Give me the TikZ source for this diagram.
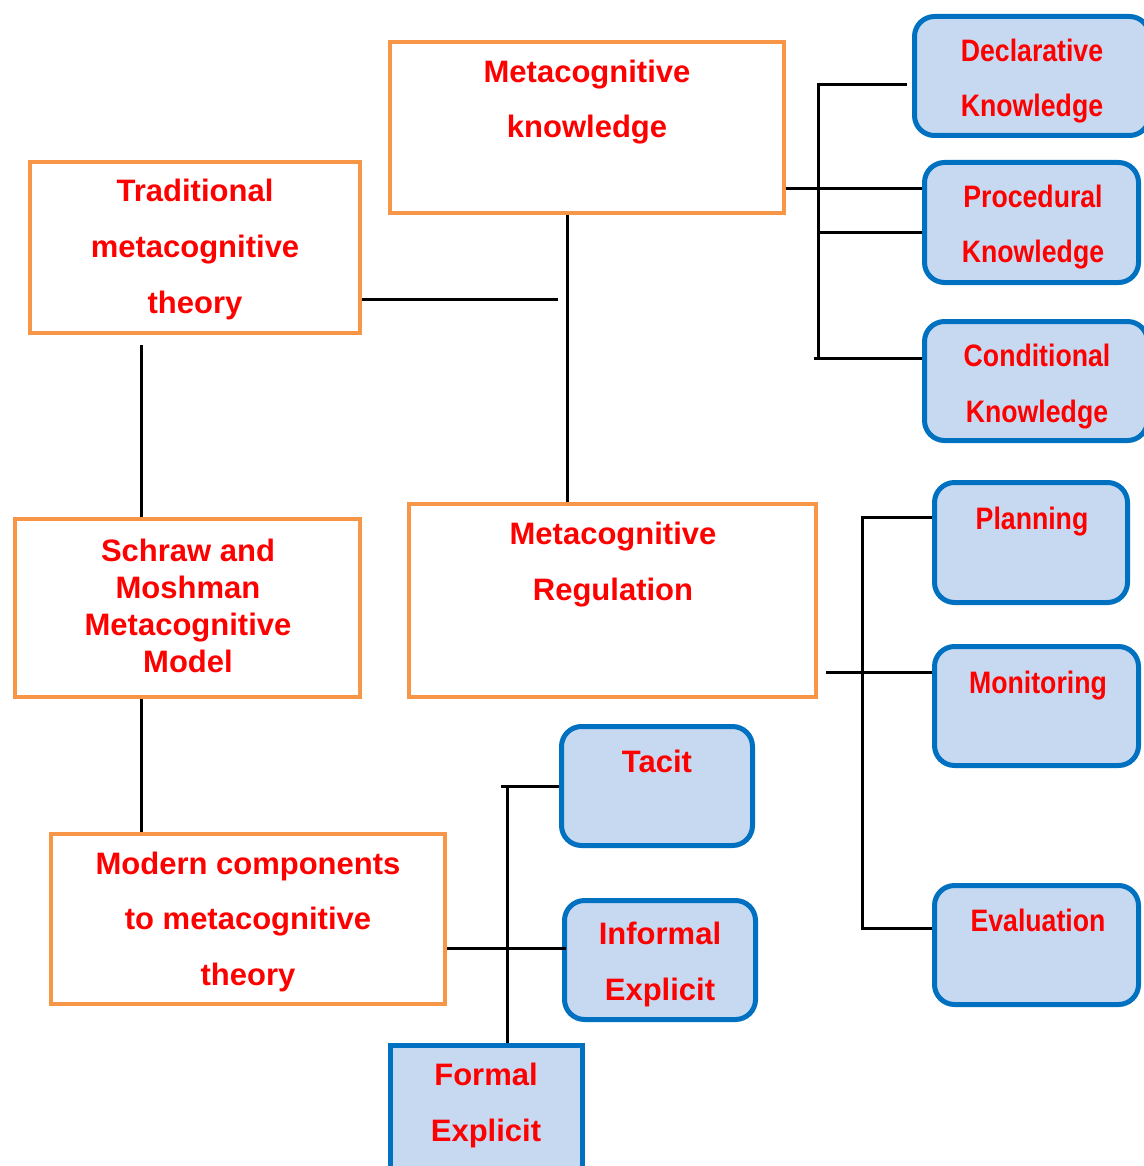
\documentclass[tikz,border=0pt]{standalone}
\usepackage{fontspec}
\setmainfont{Liberation Sans}
\newfontfamily\condf{Liberation Sans}[FakeStretch=0.86]
\definecolor{borange}{HTML}{F79646}
\definecolor{bblue}{HTML}{0070C0}
\definecolor{bfill}{HTML}{C6D9F1}
\definecolor{tred}{HTML}{FF0000}
\begin{document}
\begin{tikzpicture}[x=0.5pt,y=-0.5pt,
  obox/.style={draw=borange, line width=2pt, fill=white, inner sep=0pt},
  bbox/.style={draw=bblue, line width=2.5pt, fill=bfill, inner sep=0pt, rounded corners=10pt},
  sbox/.style={draw=bblue, line width=2.5pt, fill=bfill, inner sep=0pt},
  txt/.style={text=tred, font=\fontsize{15.5}{27.75}\selectfont\bfseries, align=center, anchor=base, inner sep=0pt},
  ctxt/.style={txt, font=\fontsize{15.5}{27.75}\selectfont\condf\bfseries},
  conn/.style={draw=black, line width=1.5pt}]
\useasboundingbox (0,0) rectangle (1144,1166);
\clip (0,0) rectangle (1144,1166);
% orange boxes
\node[obox, minimum width=197pt, minimum height=85.5pt] (mk) at (587,127.5) {};
\node[obox, minimum width=165pt, minimum height=85.5pt] (trad) at (195,247.5) {};
\node[obox, minimum width=172.5pt, minimum height=89pt] (sch) at (187.5,608) {};
\node[obox, minimum width=203.5pt, minimum height=96.5pt] (mr) at (612.5,600.5) {};
\node[obox, minimum width=197pt, minimum height=85pt] (mod) at (248,919) {};
% blue boxes
\node[bbox, minimum width=117.5pt, minimum height=59.5pt] (decl) at (1032,76) {};
\node[bbox, minimum width=107pt, minimum height=60pt] (proc) at (1031.5,222.5) {};
\node[bbox, minimum width=111.5pt, minimum height=59.5pt] (cond) at (1036,381) {};
\node[bbox, minimum width=96.5pt, minimum height=60pt] (plan) at (1031,542.5) {};
\node[bbox, minimum width=102pt, minimum height=59.5pt] (mon) at (1036.5,706) {};
\node[bbox, minimum width=102pt, minimum height=59.5pt] (eval) at (1036.5,945) {};
\node[bbox, minimum width=95.5pt, minimum height=59.5pt] (tacit) at (657,786) {};
\node[bbox, minimum width=95.5pt, minimum height=59.5pt] (inf) at (660,960) {};
\node[sbox, minimum width=96pt, minimum height=63.25pt] (form) at (486.5,1108.75) {};
% texts (anchor = baseline of last line)
\node[txt] (mkt) at (587,138) {Metacognitive\\knowledge};
\node[txt] (tradt) at (195,313) {Traditional\\metacognitive\\theory};
\node[txt, font=\fontsize{15.5}{18.5}\selectfont\bfseries] (scht) at (188,672) {Schraw and\\Moshman\\Metacognitive\\Model};
\node[txt] (mrt) at (613,600) {Metacognitive\\Regulation};
\node[txt] (modt) at (248,985) {Modern components\\to metacognitive\\theory};
\node[ctxt] (declt) at (1032,117) {Declarative\\Knowledge};
\node[ctxt] (proct) at (1033,263) {Procedural\\Knowledge};
\node[ctxt] (condt) at (1037,422) {Conditional\\Knowledge};
\node[ctxt] (plant) at (1032,529) {Planning};
\node[ctxt] (mont) at (1038,693) {Monitoring};
\node[ctxt] (evalt) at (1038,931) {Evaluation};
\node[txt] (tacitt) at (657,772) {Tacit};
\node[txt] (inft) at (660,1000) {Informal\\Explicit};
\node[txt] (formt) at (486,1141) {Formal\\Explicit};
% connectors: knowledge bus
\coordinate (kt) at (818,85);
\coordinate (kd) at (907,85);
\coordinate (kp) at (818,189);
\coordinate (kq) at (818,233);
\coordinate (kb) at (814,358);
\draw[conn] (kd) -- (kt) -- (kt |- kb);
\draw[conn] (kp -| mk.east) -- (kp -| proc.west);
\draw[conn] (kq) -- (kq -| proc.west);
\draw[conn] (kb) -- (kb -| cond.west);
% central spine
\coordinate (cv) at (567,0);
\draw[conn] (cv |- mk.south) -- (cv |- mr.north);
\coordinate (th) at (558,299);
\draw[conn] (th -| trad.east) -- (th);
% left spine
\coordinate (lv) at (141,345);
\draw[conn] (lv) -- (lv |- sch.north);
\draw[conn] (lv |- sch.south) -- (lv |- mod.north);
% regulation bus
\coordinate (rt) at (862,517);
\coordinate (rm) at (826,672);
\coordinate (rb) at (862,928);
\draw[conn] (rt -| plan.west) -- (rt) -- (rb) -- (rb -| eval.west);
\draw[conn] (rm) -- (rm -| mon.west);
% modern bus
\coordinate (mt) at (501,786);
\coordinate (mv) at (507,786);
\coordinate (mh) at (566,948);
\draw[conn] (mt) -- (mt -| tacit.west);
\draw[conn] (mv) -- (mv |- form.north);
\draw[conn] (mh -| mod.east) -- (mh);
\end{tikzpicture}
\end{document}
